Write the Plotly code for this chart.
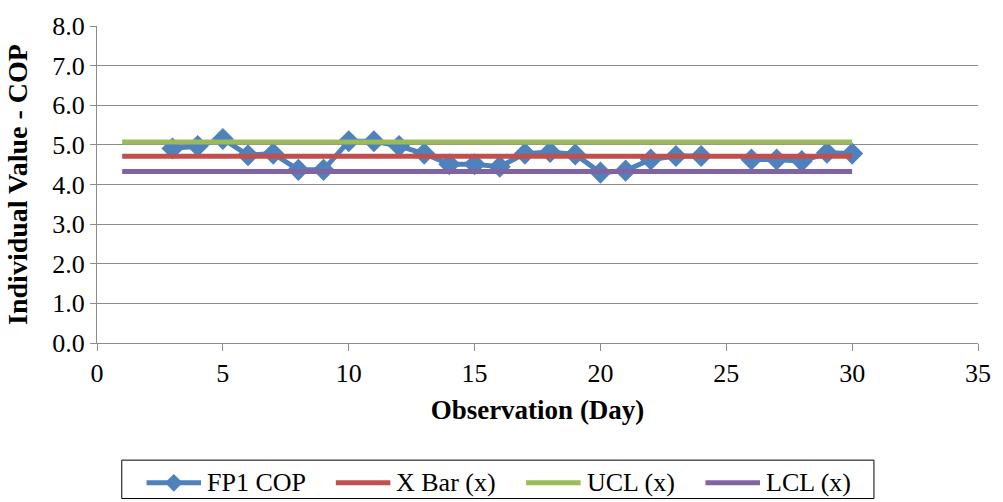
import plotly.graph_objects as go

# Daily COP readings (day 1, 2 and 25 not recorded)
days = list(range(1, 31))
fp1_cop = [None, None, 4.91, 4.97, 5.15, 4.74, 4.78, 4.37, 4.37, 5.09,
           5.09, 4.97, 4.78, 4.51, 4.51, 4.45, 4.78, 4.82, 4.76, 4.30,
           4.35, 4.63, 4.72, 4.72, None, 4.63, 4.63, 4.59, 4.80, 4.78]

# Control chart centre line and limits, spanning days 1-30
limit_days = [1, 30]
x_bar = [4.71, 4.71]
ucl = [5.07, 5.07]
lcl = [4.33, 4.33]

y_ticks = [0, 1, 2, 3, 4, 5, 6, 7, 8]
x_ticks = [0, 5, 10, 15, 20, 25, 30, 35]

FONT = "Liberation Serif, Times New Roman, serif"
GRID = "#8c8c8c"
FS = 26
BLUE, RED, GREEN, PURPLE = "#4F81BD", "#C0504D", "#9BBB59", "#8064A2"

W, H = 1003, 502
L, R, T, B = 97, 17, 21, 159
PW, PH = W - L - R, H - T - B

fig = go.Figure()
fig.add_trace(go.Scatter(
    x=days, y=fp1_cop, name="FP1 COP", mode="lines+markers",
    line=dict(color=BLUE, width=5),
    marker=dict(symbol="diamond", size=17, color=BLUE),
    connectgaps=False,
))
fig.add_trace(go.Scatter(x=limit_days, y=x_bar, name="X Bar (x)", mode="lines",
                         line=dict(color=RED, width=5)))
fig.add_trace(go.Scatter(x=limit_days, y=ucl, name="UCL (x)", mode="lines",
                         line=dict(color=GREEN, width=5)))
fig.add_trace(go.Scatter(x=limit_days, y=lcl, name="LCL (x)", mode="lines",
                         line=dict(color=PURPLE, width=5)))


# Legend box below the chart, laid out in pixels and converted to paper units
def px(x):
    return (x - L) / PW


def py(y):
    return (H - B - y) / PH


shapes = [dict(type="rect", xref="paper", yref="paper",
               x0=px(122), x1=px(881), y0=py(462), y1=py(501),
               line=dict(color="black", width=1), fillcolor="white", layer="above")]
annotations = []
legend_y = 485
entries = [("FP1 COP", BLUE, 147, True), ("X Bar (x)", RED, 338, False),
           ("UCL (x)", GREEN, 530, False), ("LCL (x)", PURPLE, 711, False)]
for label, color, x0, diamond in entries:
    shapes.append(dict(type="line", xref="paper", yref="paper",
                       x0=px(x0), x1=px(x0 + 55), y0=py(legend_y), y1=py(legend_y),
                       line=dict(color=color, width=5), layer="above"))
    if diamond:
        cx, d = x0 + 27.5, 9
        shapes.append(dict(
            type="path", xref="paper", yref="paper", layer="above",
            path=(f"M {px(cx - d)} {py(legend_y)} L {px(cx)} {py(legend_y - d)} "
                  f"L {px(cx + d)} {py(legend_y)} L {px(cx)} {py(legend_y + d)} Z"),
            fillcolor=color, line=dict(color=color, width=0)))
    annotations.append(dict(
        text=label, xref="paper", yref="paper", x=px(x0 + 59), y=py(legend_y),
        xanchor="left", yanchor="middle", showarrow=False,
        font=dict(family=FONT, size=FS, color="black")))

fig.update_layout(
    width=W, height=H,
    margin=dict(l=L, r=R, t=T, b=B),
    paper_bgcolor="white", plot_bgcolor="white",
    font=dict(family=FONT, size=FS, color="black"),
    showlegend=False,
    shapes=shapes,
    annotations=annotations,
    xaxis=dict(
        range=[0, 35], tickvals=x_ticks, ticks="outside", ticklen=7,
        tickcolor=GRID, showline=True, linecolor=GRID, linewidth=1,
        showgrid=False, zeroline=False,
        tickfont=dict(family=FONT, size=FS, color="black"),
        title=dict(text="<b>Observation (Day)</b>", standoff=12,
                   font=dict(family=FONT, size=27, color="black")),
    ),
    yaxis=dict(
        range=[0, 8], tickvals=y_ticks, tickformat=".1f", ticks="outside",
        ticklen=6, tickcolor=GRID, showline=True, linecolor=GRID, linewidth=1,
        showgrid=True, gridcolor=GRID, gridwidth=1, zeroline=False,
        tickfont=dict(family=FONT, size=FS, color="black"),
        title=dict(text="<b>Individual Value - COP</b>", standoff=16,
                   font=dict(family=FONT, size=28, color="black")),
    ),
)

fig.write_html("out.html")
